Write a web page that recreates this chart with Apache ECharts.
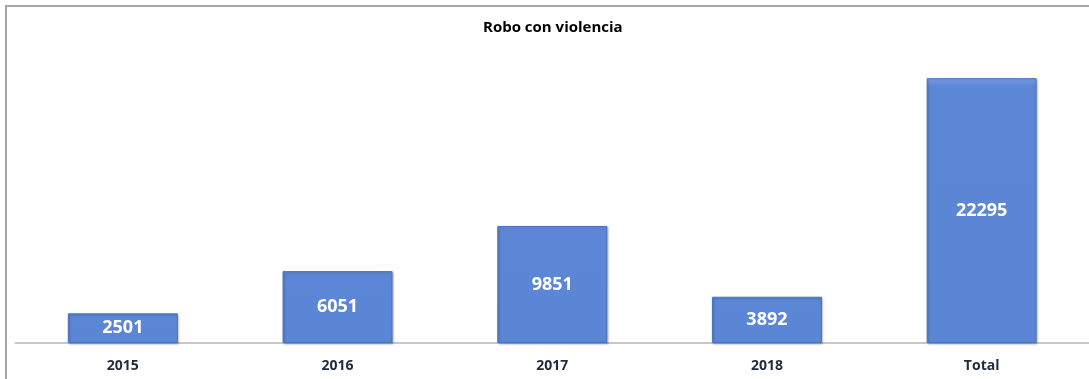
<!DOCTYPE html>
<html>
<head>
<meta charset="utf-8">
<script src="https://cdn.jsdelivr.net/npm/echarts@6/dist/echarts.min.js"></script>
<style>
html,body{margin:0;padding:0;background:#fff;}
#c{width:1089px;height:379px;}
</style>
</head>
<body>
<div id="c"></div>
<script>
const categories = ['2015', '2016', '2017', '2018', 'Total'];
const values = [2501, 6051, 9851, 3892, 22295];
const titleText = 'Robo con violencia';

const chart = echarts.init(document.getElementById('c'), null, {renderer: 'canvas'});
chart.setOption({
  animation: false,
  backgroundColor: '#ffffff',
  title: {
    text: titleText,
    left: 478, top: 15,
    textStyle: {fontFamily: 'Open Sans', fontWeight: 'bold', fontSize: 15, color: '#000'}
  },
  graphic: [{
    type: 'rect', silent: true, z: 0,
    shape: {x: 6, y: 6, width: 1200, height: 500},
    style: {fill: 'none', stroke: '#a6a6a6', lineWidth: 2}
  }],
  grid: {left: 15.5, right: -1.5, top: 46, bottom: 36, containLabel: false},
  xAxis: {
    type: 'category', data: categories,
    axisLine: {lineStyle: {color: '#c8c8c8', width: 2}},
    axisTick: {show: false},
    axisLabel: {fontFamily: 'Open Sans', fontWeight: 'bold', fontSize: 14, color: '#1f2a3c', margin: 16}
  },
  yAxis: {
    type: 'value', min: 0, max: 25000,
    show: false, splitLine: {show: false}
  },
  series: [{
    type: 'bar', data: values, barWidth: 110,
    itemStyle: {
      color: {
        type: 'linear', x: 0, y: 0, x2: 0, y2: 1,
        colorStops: [
          {offset: 0, color: '#8fb0e8'},
          {offset: 0.012, color: '#6e95dc'},
          {offset: 0.03, color: '#5b87d6'},
          {offset: 1, color: '#5a86d5'}
        ]
      },
      borderColor: '#4a73bd', borderWidth: 1,
      shadowColor: 'rgba(0,0,0,0.25)', shadowBlur: 2, shadowOffsetX: 1, shadowOffsetY: 1
    },
    label: {
      show: true, position: 'inside',
      fontFamily: 'Open Sans', fontWeight: 'bold', fontSize: 18, color: '#ffffff'
    }
  }]
});
</script>
</body>
</html>
